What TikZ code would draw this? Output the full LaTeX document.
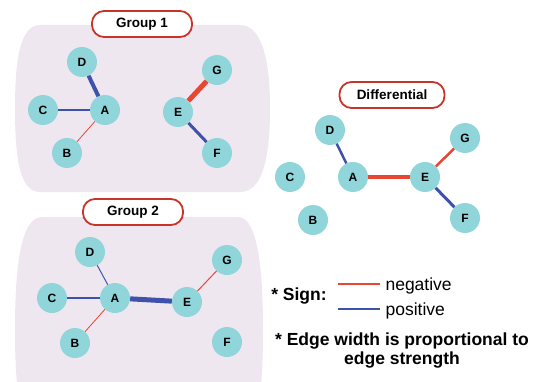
\documentclass[tikz,border=0pt]{standalone}
\usepackage{fontspec}
\setmainfont{Liberation Sans}
\definecolor{nodeteal}{RGB}{143,213,218}
\definecolor{panelpink}{RGB}{239,231,240}
\definecolor{tagred}{RGB}{200,52,40}
\definecolor{negred}{RGB}{233,70,50}
\definecolor{posblue}{RGB}{62,82,172}
\begin{document}
\begin{tikzpicture}[x=1pt,y=-1pt,
    vert/.style={circle,fill=nodeteal,minimum size=30pt,inner sep=0pt,font=\fontsize{12}{12}\selectfont\bfseries},
    tag/.style={draw=tagred,line width=1.8pt,rounded corners=12pt,fill=white,minimum width=100pt,minimum height=26pt,font=\fontsize{13.5}{13.5}\selectfont\bfseries},
    neg/.style={negred,line width=#1},
    pos/.style={posblue,line width=#1},
    legendtext/.style={font=\fontsize{17.5}{20}\selectfont}]
    \useasboundingbox (0,0) rectangle (537,382);
    \begin{scope}
        \clip (0,0) rectangle (537,382);
        \fill[panelpink] (40,25) -- (240,25) .. controls (262,25) and (270,60) .. (270,108)
            .. controls (270,160) and (262,192) .. (240,192) -- (40,192)
            .. controls (20,192) and (15,160) .. (15,108)
            .. controls (15,60) and (20,25) .. (40,25) -- cycle;
        \fill[panelpink] (42,217) -- (238,217) .. controls (258,217) and (263,270) .. (263,330)
            .. controls (263,390) and (258,440) .. (238,440) -- (42,440)
            .. controls (20,440) and (15,390) .. (15,330)
            .. controls (15,270) and (20,217) .. (42,217) -- cycle;
    \end{scope}
    % group 1
    \node[tag] (t1) at (142,24) {Group 1};
    \foreach \n/\x/\y in {D/82/62,C/43/110,A/105/110,B/67/153,G/217/70,E/178/112,F/217/153}
        \node[vert] (a\n) at (\x,\y) {\n};
    \draw[pos=4pt] (aA) -- (aD);
    \draw[pos=2.5pt] (aA) -- (aC);
    \draw[neg=0.8pt] (aA) -- (aB);
    \draw[neg=5pt] (aE) -- (aG);
    \draw[pos=3pt] (aE) -- (aF);
    % group 2
    \node[tag] (t2) at (133,212) {Group 2};
    \foreach \n/\x/\y in {D/90/252,C/52/298,A/115/298,B/75/343,G/227/260,E/187/302,F/227/342}
        \node[vert] (b\n) at (\x,\y) {\n};
    \draw[pos=1pt] (bA) -- (bD);
    \draw[pos=2.5pt] (bA) -- (bC);
    \draw[neg=0.8pt] (bA) -- (bB);
    \draw[pos=5pt] (bA) -- (bE);
    \draw[neg=1pt] (bE) -- (bG);
    % differential
    \node[tag,minimum width=105pt] (t3) at (392,95) {Differential};
    \foreach \n/\x/\y in {D/330/130,C/290/177,A/353/177,B/313/220,G/465/138,E/425/177,F/465/218}
        \node[vert] (c\n) at (\x,\y) {\n};
    \draw[pos=2.5pt] (cA) -- (cD);
    \draw[neg=4.5pt] (cA) -- (cE);
    \draw[neg=2.5pt] (cE) -- (cG);
    \draw[pos=3pt] (cE) -- (cF);
    % legend
    \node[legendtext,font=\fontsize{17.5}{20}\selectfont\bfseries] (sign) at (299,296) {* Sign:};
    \coordinate (n1) at (338,284);
    \coordinate (n2) at (380,284);
    \coordinate (p1) at (338,309);
    \coordinate (p2) at (380,309);
    \draw[neg=1.2pt] (n1) -- (n2);
    \draw[pos=1.2pt] (p1) -- (p2);
    \node[legendtext,anchor=west] (negtext) at (382,286) {negative};
    \node[legendtext,anchor=west] (postext) at (382,311) {positive};
    \node[legendtext,font=\fontsize{17.5}{19}\selectfont\bfseries,align=center] (width) at (402,351)
        {* Edge width is proportional to\\edge strength};
\end{tikzpicture}
\end{document}
